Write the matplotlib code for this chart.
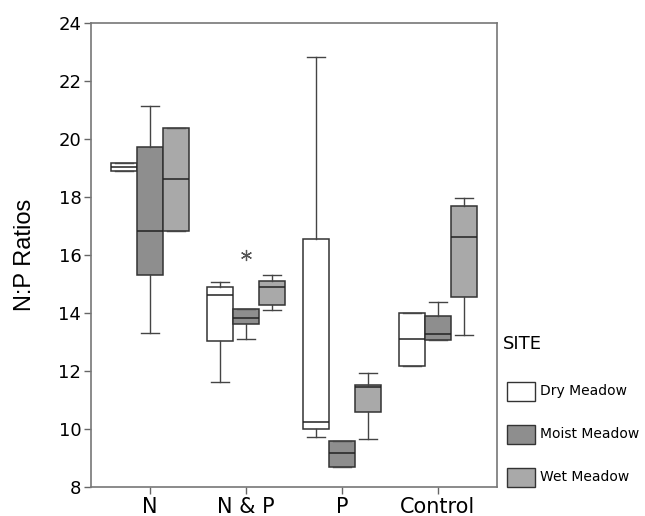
import matplotlib
matplotlib.use("Agg")
import matplotlib.pyplot as plt
from matplotlib.patches import Rectangle

categories = ["N", "N & P", "P", "Control"]
sites = ["Dry Meadow", "Moist Meadow", "Wet Meadow"]
site_colors = ["#ffffff", "#8e8e8e", "#a9a9a9"]

# per site: lists over categories  (whislo, q1, med, q3, whishi)
dry_whislo = [18.90, 11.63, 9.71, 12.18]
dry_q1 = [18.90, 13.03, 10.00, 12.18]
dry_med = [19.03, 14.62, 10.25, 13.09]
dry_q3 = [19.18, 14.91, 16.56, 14.01]
dry_whishi = [19.18, 15.07, 22.84, 14.01]

moist_whislo = [13.30, 13.11, 8.69, 13.08]
moist_q1 = [15.32, 13.61, 8.69, 13.08]
moist_med = [16.84, 13.82, 9.16, 13.27]
moist_q3 = [19.71, 14.13, 9.59, 13.89]
moist_whishi = [21.14, 14.13, 9.59, 14.38]

wet_whislo = [16.84, 14.10, 9.66, 13.24]
wet_q1 = [16.84, 14.29, 10.58, 14.56]
wet_med = [18.61, 14.91, 11.46, 16.62]
wet_q3 = [20.37, 15.09, 11.51, 17.69]
wet_whishi = [20.37, 15.32, 11.93, 17.97]

# outliers: (site index, category index, value)
outliers = [(1, 1, 16.0)]

yticks = [8, 10, 12, 14, 16, 18, 20, 22, 24]

stats_by_site = [
    (dry_whislo, dry_q1, dry_med, dry_q3, dry_whishi),
    (moist_whislo, moist_q1, moist_med, moist_q3, moist_whishi),
    (wet_whislo, wet_q1, wet_med, wet_q3, wet_whishi),
]

fig = plt.figure(figsize=(6.45, 5.16), dpi=100)
ax = fig.add_axes([91/645, 1-487/516, (497-91)/645, (487-23)/516])

width = 0.27
offsets = [-0.27, 0.0, 0.27]
for s, (wl, q1, md, q3, wh) in enumerate(stats_by_site):
    stats = []
    for c in range(len(categories)):
        fl = [v for (si, ci, v) in outliers if si == s and ci == c]
        stats.append(dict(whislo=wl[c], q1=q1[c], med=md[c], q3=q3[c],
                          whishi=wh[c], fliers=fl))
    pos = [c + 1 + offsets[s] for c in range(len(categories))]
    ax.bxp(stats, positions=pos, widths=width, capwidths=width*0.7,
           patch_artist=True, showfliers=True, manage_ticks=False,
           boxprops=dict(facecolor=site_colors[s], edgecolor="#333333", linewidth=1.1),
           medianprops=dict(color="#222222", linewidth=1.1),
           whiskerprops=dict(color="#444444", linewidth=1.0),
           capprops=dict(color="#444444", linewidth=1.0),
           flierprops=dict(marker=(6, 2, 0), markersize=8, markeredgecolor="#555555",
                           markerfacecolor="none", markeredgewidth=0.9, linestyle="none"))

ax.set_xlim(0.385, 4.615)
ax.set_ylim(8, 24)
ax.set_yticks(yticks)
ax.set_yticklabels([str(t) for t in yticks], fontsize=13, family="DejaVu Sans")
ax.set_xticks(range(1, len(categories) + 1))
ax.set_xticklabels(categories, fontsize=15, family="DejaVu Sans")
for sp in ax.spines.values():
    sp.set_color("#777777")
    sp.set_linewidth(1.2)
ax.tick_params(axis="both", color="#666666", length=5, width=1, pad=2)
ax.set_ylabel("N:P Ratios", fontsize=17, family="Liberation Sans", labelpad=16)

# legend
fig.text(503/645, 1-344/516, "SITE", fontsize=13, family="DejaVu Sans", va="center", ha="left")
legend_y = [391, 434, 477]
for s, name in enumerate(sites):
    yc = legend_y[s]
    fig.patches.append(Rectangle((507/645, 1-(yc+9.5)/516), 28/645, 19/516,
                                 transform=fig.transFigure, facecolor=site_colors[s],
                                 edgecolor="#333333", linewidth=1.0))
    fig.text(540/645, 1-yc/516, name, fontsize=10, family="DejaVu Sans", va="center", ha="left")

fig.savefig("out.png", dpi=100)
